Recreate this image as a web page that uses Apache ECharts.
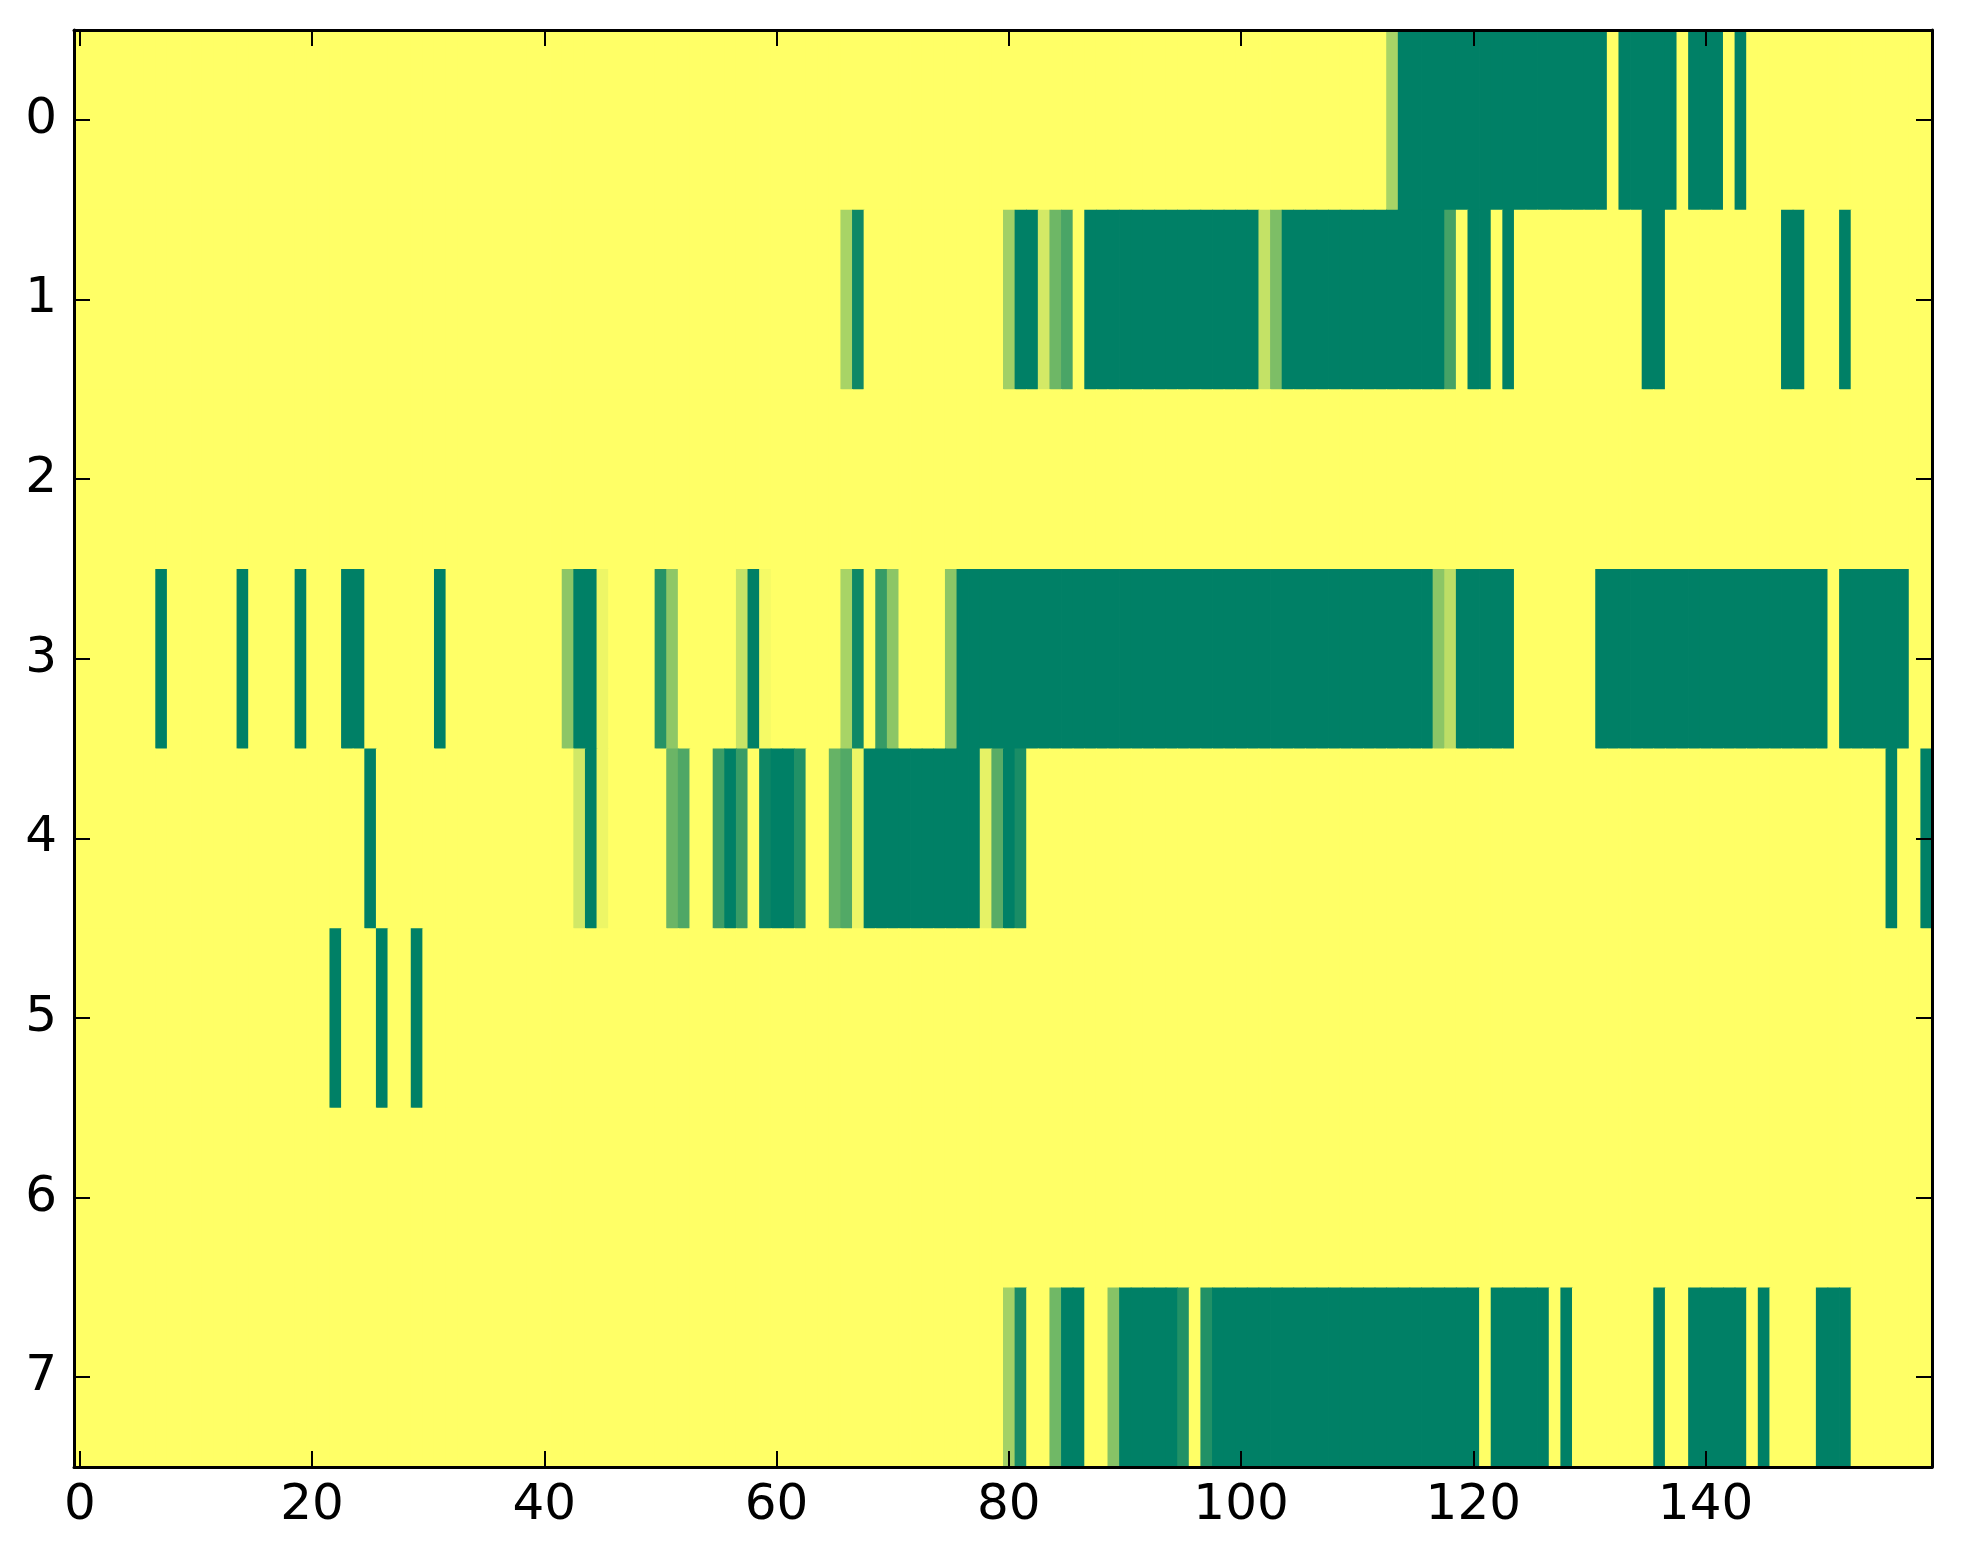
<!DOCTYPE html>
<html>
<head>
<meta charset="utf-8">
<script src="https://cdn.jsdelivr.net/npm/echarts@6/dist/echarts.min.js"></script>
<style>
html,body{margin:0;padding:0;background:#fff;}
#chart{width:1963px;height:1564px;}
</style>
</head>
<body>
<div id="chart"></div>
<script>
// Column indices 0..159 and row labels 0..7
const columns = Array.from({length: 160}, (_, i) => String(i));
const rowLabels = ['0','1','2','3','4','5','6','7'];
const xTickStep = 20;

// Cell values per row (0 = yellow, 1 = green), 160 values each
const row0 = [
  0,0,0,0,0,0,0,0,0,0, 0,0,0,0,0,0,0,0,0,0,
  0,0,0,0,0,0,0,0,0,0, 0,0,0,0,0,0,0,0,0,0,
  0,0,0,0,0,0,0,0,0,0, 0,0,0,0,0,0,0,0,0,0,
  0,0,0,0,0,0,0,0,0,0, 0,0,0,0,0,0,0,0,0,0,
  0,0,0,0,0,0,0,0,0,0, 0,0,0,0,0,0,0,0,0,0,
  0,0,0,0,0,0,0,0,0,0, 0,0,0,0.34,1,1,1,1,1,1,
  1,1,1,1,1,1,1,1,1,1, 1,1,0,1,1,1,1,1,0,1,
  1,1,0,1,0,0,0,0,0,0, 0,0,0,0,0,0,0,0,0,0
];
const row1 = [
  0,0,0,0,0,0,0,0,0,0, 0,0,0,0,0,0,0,0,0,0,
  0,0,0,0,0,0,0,0,0,0, 0,0,0,0,0,0,0,0,0,0,
  0,0,0,0,0,0,0,0,0,0, 0,0,0,0,0,0,0,0,0,0,
  0,0,0,0,0,0,0.34,0.94,0,0, 0,0,0,0,0,0,0,0,0,0,
  0.37,1,1,0.17,0.57,0.71,0,1,1,1, 1,1,1,1,1,1,1,1,1,1,
  1,1,0.23,0.51,1,1,1,1,1,1, 1,1,1,1,1,1,1,1,0.73,0,
  1,1,0,1,0,0,0,0,0,0, 0,0,0,0,0,1,1,0,0,0,
  0,0,0,0,0,0,0,1,1,0, 0,0,1,0,0,0,0,0,0,0
];
const row2 = [
  0,0,0,0,0,0,0,0,0,0, 0,0,0,0,0,0,0,0,0,0,
  0,0,0,0,0,0,0,0,0,0, 0,0,0,0,0,0,0,0,0,0,
  0,0,0,0,0,0,0,0,0,0, 0,0,0,0,0,0,0,0,0,0,
  0,0,0,0,0,0,0,0,0,0, 0,0,0,0,0,0,0,0,0,0,
  0,0,0,0,0,0,0,0,0,0, 0,0,0,0,0,0,0,0,0,0,
  0,0,0,0,0,0,0,0,0,0, 0,0,0,0,0,0,0,0,0,0,
  0,0,0,0,0,0,0,0,0,0, 0,0,0,0,0,0,0,0,0,0,
  0,0,0,0,0,0,0,0,0,0, 0,0,0,0,0,0,0,0,0,0
];
const row3 = [
  0,0,0,0,0,0,0,1,0,0, 0,0,0,0,1,0,0,0,0,1,
  0,0,0,1,1,0,0,0,0,0, 0,1,0,0,0,0,0,0,0,0,
  0,0,0.45,1,1,0.07,0,0,0,0, 0.85,0.44,0,0,0,0,0,0.22,1,0.04,
  0,0,0,0,0,0,0.34,0.94,0,0.79, 0.45,0,0,0,0,0.45,1,1,1,1,
  1,1,1,1,1,1,1,1,1,1, 1,1,1,1,1,1,1,1,1,1,
  1,1,1,1,1,1,1,1,1,1, 1,1,1,1,1,1,1,0.45,0.26,1,
  1,1,1,1,0,0,0,0,0,0, 0,1,1,1,1,1,1,1,1,1,
  1,1,1,1,1,1,1,1,1,1, 1,0,1,1,1,1,1,1,0,0
];
const row4 = [
  0,0,0,0,0,0,0,0,0,0, 0,0,0,0,0,0,0,0,0,0,
  0,0,0,0,0,1,0,0,0,0, 0,0,0,0,0,0,0,0,0,0,
  0,0,0,0.18,1,0.07,0,0,0,0, 0,0.58,0.69,0,0,0.76,1,0.78,0,0.95,
  1,1,0.87,0,0,0.6,0.68,0.07,1,1, 1,1,1,1,1,1,1,1,0.1,0.65,
  1,0.9,0,0,0,0,0,0,0,0, 0,0,0,0,0,0,0,0,0,0,
  0,0,0,0,0,0,0,0,0,0, 0,0,0,0,0,0,0,0,0,0,
  0,0,0,0,0,0,0,0,0,0, 0,0,0,0,0,0,0,0,0,0,
  0,0,0,0,0,0,0,0,0,0, 0,0,0,0,0,0,1,0,0,1
];
const row5 = [
  0,0,0,0,0,0,0,0,0,0, 0,0,0,0,0,0,0,0,0,0,
  0,0,1,0,0,0,1,0,0,1, 0,0,0,0,0,0,0,0,0,0,
  0,0,0,0,0,0,0,0,0,0, 0,0,0,0,0,0,0,0,0,0,
  0,0,0,0,0,0,0,0,0,0, 0,0,0,0,0,0,0,0,0,0,
  0,0,0,0,0,0,0,0,0,0, 0,0,0,0,0,0,0,0,0,0,
  0,0,0,0,0,0,0,0,0,0, 0,0,0,0,0,0,0,0,0,0,
  0,0,0,0,0,0,0,0,0,0, 0,0,0,0,0,0,0,0,0,0,
  0,0,0,0,0,0,0,0,0,0, 0,0,0,0,0,0,0,0,0,0
];
const row6 = [
  0,0,0,0,0,0,0,0,0,0, 0,0,0,0,0,0,0,0,0,0,
  0,0,0,0,0,0,0,0,0,0, 0,0,0,0,0,0,0,0,0,0,
  0,0,0,0,0,0,0,0,0,0, 0,0,0,0,0,0,0,0,0,0,
  0,0,0,0,0,0,0,0,0,0, 0,0,0,0,0,0,0,0,0,0,
  0,0,0,0,0,0,0,0,0,0, 0,0,0,0,0,0,0,0,0,0,
  0,0,0,0,0,0,0,0,0,0, 0,0,0,0,0,0,0,0,0,0,
  0,0,0,0,0,0,0,0,0,0, 0,0,0,0,0,0,0,0,0,0,
  0,0,0,0,0,0,0,0,0,0, 0,0,0,0,0,0,0,0,0,0
];
const row7 = [
  0,0,0,0,0,0,0,0,0,0, 0,0,0,0,0,0,0,0,0,0,
  0,0,0,0,0,0,0,0,0,0, 0,0,0,0,0,0,0,0,0,0,
  0,0,0,0,0,0,0,0,0,0, 0,0,0,0,0,0,0,0,0,0,
  0,0,0,0,0,0,0,0,0,0, 0,0,0,0,0,0,0,0,0,0,
  0.36,0.91,0,0,0.56,1,1,0,0,0.47, 1,1,1,1,1,0.87,0,0.87,1,1,
  1,1,1,1,1,1,1,1,1,1, 1,1,1,1,1,1,1,1,1,1,
  1,0,1,1,1,1,1,0,1,0, 0,0,0,0,0,0,1,0,0,1,
  1,1,1,1,0,1,0,0,0,0, 1,1,1,0,0,0,0,0,0,0
];
const rows = [row0, row1, row2, row3, row4, row5, row6, row7];

const cells = [];
rows.forEach((r, y) => r.forEach((v, x) => cells.push([x, y, v])));

const FONT = 'DejaVu Sans';
const tickOnStep = (i) => i % xTickStep === 0;
const frameStyle = {color: '#000', width: 3};
const tickStyle = {color: '#000', width: 2};

const xBase = {
  type: 'category', data: columns, z: 10,
  axisLine: {show: true, onZero: false, lineStyle: frameStyle},
  splitLine: {show: false}
};
const yBase = {
  type: 'category', data: rowLabels, inverse: true, z: 10,
  axisLine: {show: true, onZero: false, lineStyle: frameStyle},
  splitLine: {show: false}
};

function renderCell(params, api) {
  const p = api.coord([api.value(0), api.value(1)]);
  const s = api.size([1, 1]);
  return {
    type: 'rect',
    shape: {x: p[0] - s[0] / 2, y: p[1] - s[1] / 2, width: s[0] + 0.8, height: s[1] + 0.8},
    style: {fill: api.visual('color')}
  };
}

const chart = echarts.init(document.getElementById('chart'), null, {renderer: 'canvas'});
chart.setOption({
  backgroundColor: '#ffffff',
  animation: false,
  grid: {left: 74, right: 31, top: 30, bottom: 97, containLabel: false},
  xAxis: [
    Object.assign({}, xBase, {
      position: 'bottom',
      axisTick: {show: true, inside: true, length: 16, alignWithLabel: true, interval: tickOnStep, lineStyle: tickStyle},
      axisLabel: {show: true, interval: tickOnStep, margin: 14, color: '#000', fontSize: 50, fontFamily: FONT}
    }),
    Object.assign({}, xBase, {
      position: 'top',
      axisTick: {show: true, inside: true, length: 16, alignWithLabel: true, interval: tickOnStep, lineStyle: tickStyle},
      axisLabel: {show: false}
    })
  ],
  yAxis: [
    Object.assign({}, yBase, {
      position: 'left',
      axisTick: {show: true, inside: true, length: 16, alignWithLabel: true, interval: 0, lineStyle: tickStyle},
      axisLabel: {show: true, interval: 0, margin: 17, color: '#000', fontSize: 50, fontFamily: FONT}
    }),
    Object.assign({}, yBase, {
      position: 'right',
      axisTick: {show: true, inside: true, length: 16, alignWithLabel: true, interval: 0, lineStyle: tickStyle},
      axisLabel: {show: false}
    })
  ],
  visualMap: {
    show: false, type: 'continuous', min: 0, max: 1, dimension: 2, seriesIndex: 0,
    inRange: {color: ['#ffff66', '#008066']}
  },
  series: [{
    type: 'custom',
    xAxisIndex: 0, yAxisIndex: 0,
    renderItem: renderCell,
    encode: {x: 0, y: 1},
    data: cells,
    clip: true,
    silent: true
  }]
});
</script>
</body>
</html>
